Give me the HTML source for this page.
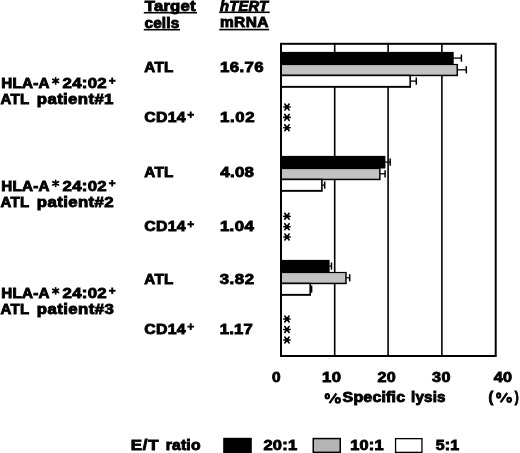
<!DOCTYPE html>
<html><head><meta charset="utf-8"><style>
html,body{margin:0;padding:0;background:#fff;width:520px;height:453px;overflow:hidden}
svg{display:block}
text{font-family:"Liberation Sans",sans-serif;font-weight:bold;font-size:14px;fill:#000;stroke:#000;stroke-width:0.85px}
</style></head><body>
<svg width="520" height="453" viewBox="0 0 520 453">
<rect width="520" height="453" fill="#fff"/>
<line x1="334.70" y1="44" x2="334.70" y2="356" stroke="#000" stroke-width="1.6"/>
<line x1="388.10" y1="44" x2="388.10" y2="356" stroke="#000" stroke-width="1.6"/>
<line x1="441.90" y1="44" x2="441.90" y2="356" stroke="#000" stroke-width="1.6"/>
<rect x="281.0" y="63.90" width="177.00" height="12.3" fill="#000"/>
<rect x="281.0" y="65.10" width="175.50" height="9.6" fill="#c2c2c2"/>
<rect x="281.0" y="74.70" width="130.00" height="13.1" fill="#000"/>
<rect x="281.0" y="76.20" width="128.40" height="9.7" fill="#fff"/>
<rect x="281.0" y="51.90" width="172.70" height="12.6" fill="#000"/>
<line x1="453.20" y1="58.10" x2="461.40" y2="58.10" stroke="#000" stroke-width="1.3"/>
<line x1="461.40" y1="54.50" x2="461.40" y2="61.70" stroke="#000" stroke-width="1.5"/>
<line x1="457.50" y1="69.80" x2="466.30" y2="69.80" stroke="#000" stroke-width="1.3"/>
<line x1="466.30" y1="66.20" x2="466.30" y2="73.40" stroke="#000" stroke-width="1.5"/>
<line x1="410.50" y1="81.10" x2="416.30" y2="81.10" stroke="#000" stroke-width="1.3"/>
<line x1="416.30" y1="77.50" x2="416.30" y2="84.70" stroke="#000" stroke-width="1.5"/>
<rect x="281.0" y="167.90" width="99.60" height="12.3" fill="#000"/>
<rect x="281.0" y="169.10" width="98.10" height="9.6" fill="#c2c2c2"/>
<rect x="281.0" y="178.70" width="41.70" height="13.1" fill="#000"/>
<rect x="281.0" y="180.20" width="40.10" height="9.7" fill="#fff"/>
<rect x="281.0" y="155.90" width="104.40" height="12.6" fill="#000"/>
<line x1="384.90" y1="162.10" x2="390.20" y2="162.10" stroke="#000" stroke-width="1.3"/>
<line x1="390.20" y1="158.50" x2="390.20" y2="165.70" stroke="#000" stroke-width="1.5"/>
<line x1="380.10" y1="173.80" x2="385.10" y2="173.80" stroke="#000" stroke-width="1.3"/>
<line x1="385.10" y1="170.20" x2="385.10" y2="177.40" stroke="#000" stroke-width="1.5"/>
<line x1="322.20" y1="185.10" x2="324.70" y2="185.10" stroke="#000" stroke-width="1.3"/>
<line x1="324.70" y1="181.50" x2="324.70" y2="188.70" stroke="#000" stroke-width="1.5"/>
<rect x="281.0" y="271.90" width="65.70" height="12.3" fill="#000"/>
<rect x="281.0" y="273.10" width="64.20" height="9.6" fill="#c2c2c2"/>
<rect x="281.0" y="282.70" width="30.00" height="13.1" fill="#000"/>
<rect x="281.0" y="284.20" width="28.40" height="9.7" fill="#fff"/>
<rect x="281.0" y="259.90" width="48.60" height="12.6" fill="#000"/>
<line x1="329.10" y1="266.10" x2="331.50" y2="266.10" stroke="#000" stroke-width="1.3"/>
<line x1="331.50" y1="262.50" x2="331.50" y2="269.70" stroke="#000" stroke-width="1.5"/>
<line x1="346.20" y1="277.80" x2="349.70" y2="277.80" stroke="#000" stroke-width="1.3"/>
<line x1="349.70" y1="274.20" x2="349.70" y2="281.40" stroke="#000" stroke-width="1.5"/>
<line x1="310.50" y1="289.10" x2="311.60" y2="289.10" stroke="#000" stroke-width="1.3"/>
<line x1="311.60" y1="285.50" x2="311.60" y2="292.70" stroke="#000" stroke-width="1.5"/>
<rect x="281.0" y="43.8" width="214.70" height="312.2" fill="none" stroke="#000" stroke-width="2"/>
<path d="M283.80 107.00H290.10M284.80 104.05L289.10 109.95M289.10 104.05L284.80 109.95" stroke="#000" stroke-width="1.65" stroke-linecap="round" fill="none"/>
<path d="M283.80 117.40H290.10M284.80 114.45L289.10 120.35M289.10 114.45L284.80 120.35" stroke="#000" stroke-width="1.65" stroke-linecap="round" fill="none"/>
<path d="M283.80 127.70H290.10M284.80 124.75L289.10 130.65M289.10 124.75L284.80 130.65" stroke="#000" stroke-width="1.65" stroke-linecap="round" fill="none"/>
<path d="M283.80 216.30H290.10M284.80 213.35L289.10 219.25M289.10 213.35L284.80 219.25" stroke="#000" stroke-width="1.65" stroke-linecap="round" fill="none"/>
<path d="M283.80 226.70H290.10M284.80 223.75L289.10 229.65M289.10 223.75L284.80 229.65" stroke="#000" stroke-width="1.65" stroke-linecap="round" fill="none"/>
<path d="M283.80 237.00H290.10M284.80 234.05L289.10 239.95M289.10 234.05L284.80 239.95" stroke="#000" stroke-width="1.65" stroke-linecap="round" fill="none"/>
<path d="M283.80 319.00H290.10M284.80 316.05L289.10 321.95M289.10 316.05L284.80 321.95" stroke="#000" stroke-width="1.65" stroke-linecap="round" fill="none"/>
<path d="M283.80 329.50H290.10M284.80 326.55L289.10 332.45M289.10 326.55L284.80 332.45" stroke="#000" stroke-width="1.65" stroke-linecap="round" fill="none"/>
<path d="M283.80 340.00H290.10M284.80 337.05L289.10 342.95M289.10 337.05L284.80 342.95" stroke="#000" stroke-width="1.65" stroke-linecap="round" fill="none"/>
<rect x="143.8" y="11.9" width="53.2" height="1.6"/>
<rect x="143.8" y="28.9" width="36.2" height="1.6"/>
<rect x="219.2" y="11.5" width="50.5" height="1.6"/>
<rect x="219.2" y="28.8" width="50" height="1.6"/>
<path d="M55.65 77.85V83.95M52.80 79.25L58.50 82.55M58.50 79.25L52.80 82.55" stroke="#000" stroke-width="1.75" stroke-linecap="round" fill="none"/>
<path d="M108.90 80.80H115.50M112.20 77.50V84.10" stroke="#000" stroke-width="1.9" fill="none"/>
<path d="M55.65 180.25V186.35M52.80 181.65L58.50 184.95M58.50 181.65L52.80 184.95" stroke="#000" stroke-width="1.75" stroke-linecap="round" fill="none"/>
<path d="M108.90 183.20H115.50M112.20 179.90V186.50" stroke="#000" stroke-width="1.9" fill="none"/>
<path d="M55.65 287.85V293.95M52.80 289.25L58.50 292.55M58.50 289.25L52.80 292.55" stroke="#000" stroke-width="1.75" stroke-linecap="round" fill="none"/>
<path d="M108.90 290.80H115.50M112.20 287.50V294.10" stroke="#000" stroke-width="1.9" fill="none"/>
<path d="M187.40 114.70H194.00M190.70 111.40V118.00" stroke="#000" stroke-width="1.9" fill="none"/>
<path d="M187.40 224.30H194.00M190.70 221.00V227.60" stroke="#000" stroke-width="1.9" fill="none"/>
<path d="M187.40 326.60H194.00M190.70 323.30V329.90" stroke="#000" stroke-width="1.9" fill="none"/>
<ellipse cx="327.3" cy="396.3" rx="1.65" ry="2.20" fill="none" stroke="#000" stroke-width="2.2"/><ellipse cx="337.8" cy="400.4" rx="2.05" ry="2.20" fill="none" stroke="#000" stroke-width="2.2"/><line x1="336.4" y1="393.3" x2="329.5" y2="403.1" stroke="#000" stroke-width="2.2"/>
<ellipse cx="498.7" cy="395.5" rx="1.55" ry="2.20" fill="none" stroke="#000" stroke-width="2.2"/><ellipse cx="509.2" cy="399.8" rx="1.85" ry="2.00" fill="none" stroke="#000" stroke-width="2.2"/><line x1="507.2" y1="392.9" x2="500.6" y2="402.3" stroke="#000" stroke-width="2.2"/>
<rect x="223.2" y="437.8" width="28.6" height="15.2" fill="#000"/>
<rect x="312.5" y="437.8" width="28.5" height="15.2" fill="#000"/><rect x="314" y="439.3" width="25.5" height="12.3" fill="#b4b4b4"/>
<rect x="394.9" y="438" width="27.7" height="15" fill="#000"/><rect x="396.2" y="439.3" width="25.1" height="12.4" fill="#fff"/>
<g style="will-change:transform" transform="translate(0,-0.4)">
<text transform="scale(1.1938432544957085,1)" x="121.26" y="11.2" letter-spacing="0.171">Target</text>
<text transform="scale(1.0928468619502538,1)" x="132.23" y="28.4" letter-spacing="0.158">cells</text>
<text transform="scale(1.0505981727021518,1)" x="209.44" y="11.2" letter-spacing="0.235" font-style="italic">hTERT</text>
<text transform="scale(1.1082003340624935,1)" x="198.52" y="27.6" letter-spacing="0.293">mRNA</text>
<text transform="scale(1.0866008905656537,1)" x="1.11" y="88.7" letter-spacing="0.224">HLA-A</text>
<text transform="scale(1.2,1)" x="52.17" y="88.7" letter-spacing="0.234">24:02</text>
<text transform="scale(1.0725250953265286,1)" x="0.53" y="104.8" letter-spacing="0.276">ATL</text>
<text transform="scale(1.2,1)" x="30.68" y="104.8" letter-spacing="0.306">patient#1</text>
<text transform="scale(1.0866008905656537,1)" x="1.11" y="191.1" letter-spacing="0.224">HLA-A</text>
<text transform="scale(1.2,1)" x="52.17" y="191.1" letter-spacing="0.234">24:02</text>
<text transform="scale(1.0725250953265286,1)" x="0.53" y="207.2" letter-spacing="0.276">ATL</text>
<text transform="scale(1.2,1)" x="30.68" y="207.2" letter-spacing="0.328">patient#2</text>
<text transform="scale(1.0866008905656537,1)" x="1.11" y="298.7" letter-spacing="0.224">HLA-A</text>
<text transform="scale(1.2,1)" x="52.17" y="298.7" letter-spacing="0.234">24:02</text>
<text transform="scale(1.0725250953265286,1)" x="0.53" y="314.8" letter-spacing="0.276">ATL</text>
<text transform="scale(1.2,1)" x="30.68" y="314.8" letter-spacing="0.336">patient#3</text>
<text transform="scale(1.0846965835195688,1)" x="133.06" y="72.6" letter-spacing="0.276">ATL</text>
<text transform="scale(1.2,1)" x="183.33" y="72.6" letter-spacing="0.325">16.76</text>
<text transform="scale(1.1319430901312826,1)" x="127.50" y="122.3" letter-spacing="0.245">CD14</text>
<text transform="scale(1.2,1)" x="183.33" y="122.3" letter-spacing="0.504">1.02</text>
<text transform="scale(1.0846965835195688,1)" x="133.06" y="177.2" letter-spacing="0.276">ATL</text>
<text transform="scale(1.2,1)" x="183.57" y="177.2" letter-spacing="0.266">4.08</text>
<text transform="scale(1.1319430901312826,1)" x="127.50" y="231.9" letter-spacing="0.245">CD14</text>
<text transform="scale(1.2,1)" x="183.24" y="231.9" letter-spacing="0.335">1.04</text>
<text transform="scale(1.0846965835195688,1)" x="133.06" y="284.6" letter-spacing="0.276">ATL</text>
<text transform="scale(1.2,1)" x="183.04" y="284.6" letter-spacing="0.462">3.82</text>
<text transform="scale(1.1319430901312826,1)" x="127.50" y="334.2" letter-spacing="0.245">CD14</text>
<text transform="scale(1.1852915290525194,1)" x="185.37" y="334.2" letter-spacing="0.184">1.17</text>
<text x="272.07" y="382.6" textLength="8.58" lengthAdjust="spacingAndGlyphs">0</text>
<text transform="scale(1.1896811584331002,1)" x="270.67" y="382.6" letter-spacing="0.327">10</text>
<text transform="scale(1.1508899191711683,1)" x="328.02" y="382.6" letter-spacing="0.327">20</text>
<text transform="scale(1.1540265586468685,1)" x="374.43" y="382.6" letter-spacing="0.327">30</text>
<text transform="scale(1.1580758399433853,1)" x="426.30" y="382.6" letter-spacing="0.327">40</text>
<text transform="scale(1.141550019169291,1)" x="300.12" y="402.7" letter-spacing="0.157">Specific</text>
<text transform="scale(1.0865206639810274,1)" x="378.35" y="402.7" letter-spacing="0.158">lysis</text>
<text x="488.49" y="402.8" textLength="4.75" lengthAdjust="spacingAndGlyphs">(</text>
<text x="514.63" y="402.8" textLength="3.95" lengthAdjust="spacingAndGlyphs">)</text>
<text transform="scale(1.2,1)" x="109.03" y="450.4" letter-spacing="0.673">E/T</text>
<text transform="scale(1.126240766716411,1)" x="147.13" y="450.4" letter-spacing="0.153">ratio</text>
<text transform="scale(1.1777473025362644,1)" x="223.72" y="450.6" letter-spacing="0.190">20:1</text>
<text transform="scale(1.1653130868485875,1)" x="300.58" y="450.6" letter-spacing="0.190">10:1</text>
<text transform="scale(1.1392493009258526,1)" x="382.47" y="450.6" letter-spacing="0.204">5:1</text>
</g>
</svg>
</body></html>
